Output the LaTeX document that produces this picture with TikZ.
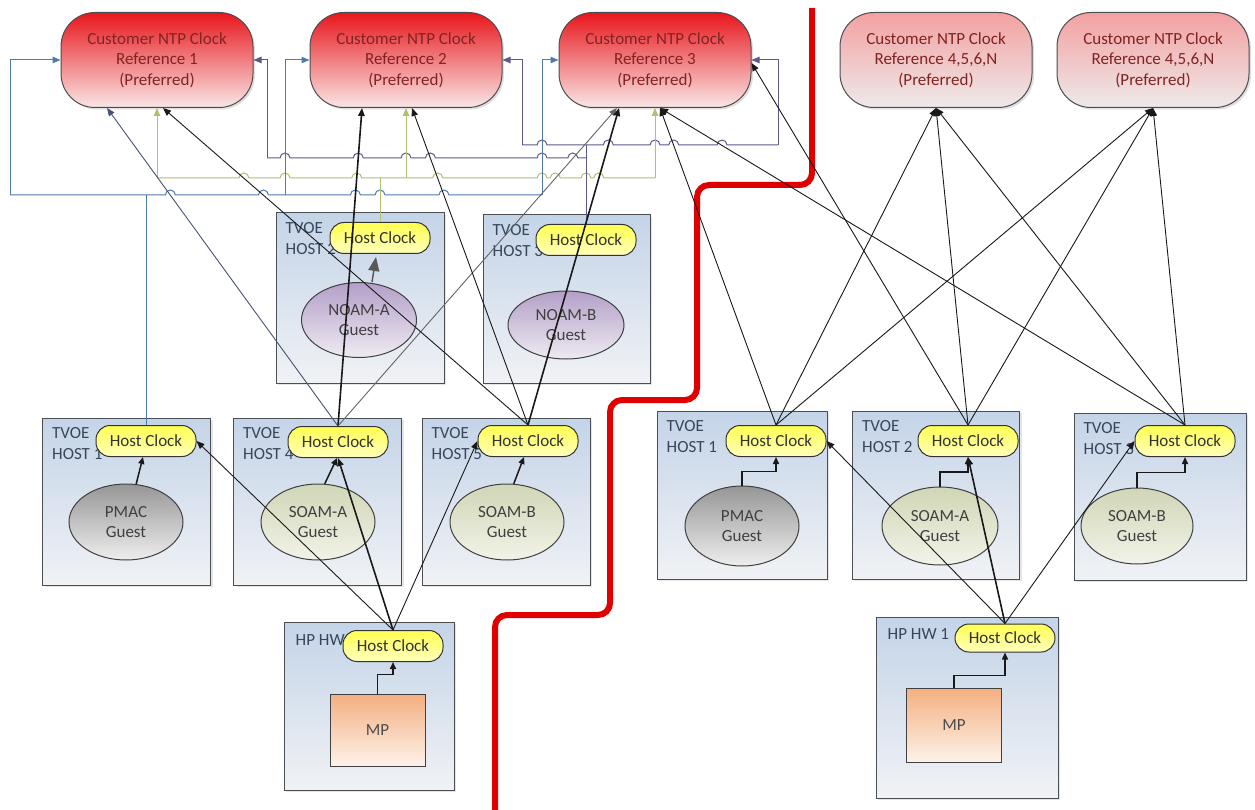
\documentclass[tikz,border=0pt]{standalone}
\usepackage{fontspec}
\setmainfont{Carlito}
\usetikzlibrary{arrows.meta,shapes.geometric,shadows,calc}
\definecolor{refAtop}{RGB}{232,22,28}
\definecolor{refAmid}{RGB}{240,110,112}
\definecolor{refAbot}{RGB}{250,230,230}
\definecolor{refBtop}{RGB}{243,160,160}
\definecolor{refBmid}{RGB}{242,200,200}
\definecolor{refBbot}{RGB}{238,234,234}
\definecolor{reftext}{RGB}{130,35,35}
\definecolor{boxtop}{RGB}{196,212,232}
\definecolor{boxbot}{RGB}{240,242,245}
\definecolor{boxline}{RGB}{75,78,82}
\definecolor{labtext}{RGB}{55,70,90}
\definecolor{clktop}{RGB}{255,255,80}
\definecolor{clkbot}{RGB}{255,255,190}
\definecolor{pmactop}{RGB}{150,150,150}
\definecolor{pmacbot}{RGB}{238,238,238}
\definecolor{soamtop}{RGB}{208,214,182}
\definecolor{soambot}{RGB}{242,243,232}
\definecolor{noamtop}{RGB}{180,160,200}
\definecolor{noambot}{RGB}{238,234,242}
\definecolor{mptop}{RGB}{244,175,128}
\definecolor{mpbot}{RGB}{253,242,234}
\definecolor{blueL}{RGB}{78,122,176}
\definecolor{purpL}{RGB}{92,90,140}
\definecolor{oliveL}{RGB}{178,190,112}
\definecolor{blackL}{RGB}{25,25,25}
\definecolor{slateL}{RGB}{72,84,110}
\definecolor{grayL}{RGB}{100,100,100}
\definecolor{wallred}{RGB}{224,0,0}
% horizontal bus with line jumps: style, y, x start, x end, jump positions
\newcommand\hopbus[5]{%
  \draw[#1] (#3,#2) \foreach \hx in {#5} { -- (\hx-5,#2) arc[start angle=180,end angle=0,radius=5pt] } -- (#4,#2);}
\begin{document}
\begin{tikzpicture}[x=1pt,y=-1pt,
  every node/.style={font=\fontsize{17}{20.5}\selectfont},
  tip/.style={-{Triangle[length=8pt,width=6.5pt]}},
  refA/.style={draw=boxline, line width=1pt, rounded corners=34pt, minimum width=192pt, minimum height=95pt,
    top color=refAtop, middle color=refAmid, bottom color=refAbot, text=reftext, align=center, inner sep=0pt,
    drop shadow={shadow xshift=2pt, shadow yshift=-2pt, opacity=0.25}},
  refB/.style={refA, top color=refBtop, middle color=refBmid, bottom color=refBbot},
  hostbox/.style={draw=boxline, line width=1pt, top color=boxtop, bottom color=boxbot, inner sep=0pt,
    drop shadow={shadow xshift=2pt, shadow yshift=-2pt, opacity=0.2}},
  hlabel/.style={anchor=north west, align=left, inner sep=0pt, text=labtext},
  hclock/.style={draw=black!80, line width=1pt, rounded corners=14pt, minimum width=100pt, minimum height=31pt,
    top color=clktop, bottom color=clkbot, inner sep=0pt, text=black!80},
  guest/.style={ellipse, draw=black!75, line width=1pt, inner sep=0pt, align=center, text=black!75},
  pmac/.style={guest, top color=pmactop, bottom color=pmacbot},
  soam/.style={guest, top color=soamtop, bottom color=soambot},
  noam/.style={guest, top color=noamtop, bottom color=noambot},
  mpbox/.style={draw=black!75, line width=1pt, top color=mptop, bottom color=mpbot, minimum width=95pt, minimum height=72pt, text=black!70},
  blueL1/.style={draw=blueL, line width=1pt},
  purpL1/.style={draw=purpL, line width=1pt},
  oliveL1/.style={draw=oliveL, line width=1pt},
  blueC/.style={tip, blueL1},
  purpC/.style={tip, purpL1},
  oliveC/.style={tip, oliveL1},
  blkC/.style={tip, draw=blackL, line width=0.9pt},
  thkC/.style={tip, draw=blackL, line width=1.6pt},
  slateC/.style={tip, draw=slateL, line width=0.9pt},
  grayC/.style={tip, draw=grayL, line width=0.9pt},
  gArrow/.style={-{Triangle[length=7pt,width=6pt]}, draw=blackL, line width=1.5pt},
  nArrow/.style={-{Triangle[length=14pt,width=11pt]}, draw=black!65, line width=1.5pt},
  wall/.style={draw=wallred, line width=6pt, rounded corners=12pt}
]
\useasboundingbox (0,0) rectangle (1255,810);
\fill[white] (0,0) rectangle (1255,810);

% red separating wall
\coordinate (w0) at (812,8);
\coordinate (w1) at (812,185);
\coordinate (w2) at (697,185);
\coordinate (w3) at (697,400);
\coordinate (w4) at (610,400);
\coordinate (w5) at (610,615);
\coordinate (w6) at (495,615);
\coordinate (w7) at (495,812);
\draw[wall] (w0) -- (w1) -- (w2) -- (w3) -- (w4) -- (w5) -- (w6) -- (w7);

% references
\node[refA] (ref1) at (157,60) {Customer NTP Clock\\Reference 1\\(Preferred)};
\node[refA] (ref2) at (406,60) {Customer NTP Clock\\Reference 2\\(Preferred)};
\node[refA] (ref3) at (655,60) {Customer NTP Clock\\Reference 3\\(Preferred)};
\node[refB] (ref4) at (936,60) {Customer NTP Clock\\Reference 4,5,6,N\\(Preferred)};
\node[refB] (ref5) at (1153,60) {Customer NTP Clock\\Reference 4,5,6,N\\(Preferred)};

% host boxes
\node[hostbox, minimum width=168pt, minimum height=167pt] (lh1) at (126.5,501.5) {};
\node[hostbox, minimum width=168pt, minimum height=167pt] (lh4) at (317.5,501.5) {};
\node[hostbox, minimum width=168pt, minimum height=167pt] (lh5) at (506,501.5) {};
\node[hostbox, minimum width=168pt, minimum height=170pt] (lh2) at (360,298) {};
\node[hostbox, minimum width=167pt, minimum height=168pt] (lh3) at (566.5,299) {};
\node[hostbox, minimum width=170pt, minimum height=168pt] (lhw) at (369,706) {};
\node[hostbox, minimum width=170pt, minimum height=168pt] (rh1) at (742,495) {};
\node[hostbox, minimum width=167pt, minimum height=168pt] (rh2) at (936,495) {};
\node[hostbox, minimum width=172pt, minimum height=167pt] (rh3) at (1160,496.5) {};
\node[hostbox, minimum width=182pt, minimum height=181pt] (rhw) at (967,707.5) {};

% host labels
\node[hlabel] (t1) at ([shift={(10,10)}]lh1.north west) {TVOE\\HOST 1};
\node[hlabel] (t4) at ([shift={(10,10)}]lh4.north west) {TVOE\\HOST 4};
\node[hlabel] (t5) at ([shift={(10,10)}]lh5.north west) {TVOE\\HOST 5};
\node[hlabel] (t2) at ([shift={(10,10)}]lh2.north west) {TVOE\\HOST 2};
\node[hlabel] (t3) at ([shift={(10,10)}]lh3.north west) {TVOE\\HOST 3};
\node[hlabel] (thw) at ([shift={(12,13)}]lhw.north west) {HP HW};
\node[hlabel] (rt1) at ([shift={(10,10)}]rh1.north west) {TVOE\\HOST 1};
\node[hlabel] (rt2) at ([shift={(10,10)}]rh2.north west) {TVOE\\HOST 2};
\node[hlabel] (rt3) at ([shift={(10,10)}]rh3.north west) {TVOE\\HOST 3};
\node[hlabel] (rthw) at ([shift={(12,12)}]rhw.north west) {HP HW 1};

% guests
\node[pmac, minimum width=114pt, minimum height=76pt] (g1) at (126,522) {PMAC\\Guest};
\node[soam, minimum width=114pt, minimum height=76pt] (g4) at (318,522) {SOAM-A\\Guest};
\node[soam, minimum width=114pt, minimum height=76pt] (g5) at (507,522) {SOAM-B\\Guest};
\node[noam, minimum width=115pt, minimum height=75pt] (g2) at (359,320) {NOAM-A\\Guest};
\node[noam, minimum width=116pt, minimum height=68pt] (g3) at (566,325) {NOAM-B\\Guest};
\node[pmac, minimum width=114pt, minimum height=80pt] (rg1) at (742,526) {PMAC\\Guest};
\node[soam, minimum width=116pt, minimum height=78pt] (rg2) at (940,526) {SOAM-A\\Guest};
\node[soam, minimum width=112pt, minimum height=76pt] (rg3) at (1137,526) {SOAM-B\\Guest};
\node[mpbox] (mp1) at (377.5,730) {MP};
\node[mpbox, minimum height=74pt] (mp2) at (954,725) {MP};

% host clocks
\node[hclock] (ck1) at (146,441) {Host Clock};
\node[hclock] (ck4) at (338,442) {Host Clock};
\node[hclock] (ck5) at (528,441) {Host Clock};
\node[hclock] (ck2) at (380,238) {Host Clock};
\node[hclock] (ck3) at (586,240) {Host Clock};
\node[hclock] (ckhw) at (393,646) {Host Clock};
\node[hclock] (rck1) at (776,441) {Host Clock};
\node[hclock] (rck2) at (968,441) {Host Clock};
\node[hclock] (rck3) at (1185,441) {Host Clock};
\node[hclock, minimum height=28pt] (rckhw) at (1005,638) {Host Clock};

% guest to host clock
\draw[gArrow] (g1.75) -- ([xshift=-3pt]ck1.south);
\draw[gArrow] (g4.80) -- ([xshift=-1pt]ck4.south);
\draw[gArrow] (g5.80) -- ([xshift=-4pt]ck5.south);
\draw[nArrow] ([xshift=13pt]g2.north) -- ([shift={(-4,3)}]ck2.south);
\draw[gArrow] (rg1.north) |- ($(rg1.north)!0.5!(rck1.south)$) -| (rck1.south);
\draw[gArrow] (rg2.north) |- ($(rg2.north)!0.5!(rck2.south)$) -| (rck2.south);
\draw[gArrow] (rg3.north) |- ($(rg3.north)!0.5!(rck3.south)$) -| (rck3.south);
\draw[gArrow] (mp1.north) |- ($(mp1.north)!0.6!(ckhw.south)$) -| (ckhw.south);
\draw[gArrow] (mp2.north) |- ($(mp2.north)!0.35!(rckhw.south)$) -| (rckhw.south);

% bus levels and branch columns
\coordinate (byy) at (0,195);
\coordinate (oyy) at (0,178);
\coordinate (pyy1) at (0,158);
\coordinate (pyy2) at (0,145);
\coordinate (bx1) at (10,0);
\coordinate (bx2) at (285,0);
\coordinate (bx3) at (542,0);
\coordinate (px1) at (267,0);
\coordinate (px2) at (522,0);
\coordinate (px3) at (778,0);

% buses with line jumps
\hopbus{blueL1}{195}{10}{542}{170.4,263.4,355.4,380,443.9}
\hopbus{oliveL1}{178}{157}{655}{243.9,285,356.7,437.7,542,555.3,586,598.8}
\hopbus{purpL1}{158}{267}{586}{285,358.2,406,430.4,542,572.8}
\hopbus{purpL1}{145}{522}{778}{542,608.3,655,673.7,722}

% blue tree: host 1 clock to left sides
\draw[blueL1] (ck1.north) -- (ck1.north |- byy);
\draw[blueC] (bx1 |- byy) -- (bx1 |- ref1.west) -- (ref1.west);
\draw[blueC] (bx2 |- byy) -- (bx2 |- ref2.west) -- (ref2.west);
\draw[blueC] (bx3 |- byy) -- (bx3 |- ref3.west) -- (ref3.west);

% olive tree: host 2 clock to bottoms
\draw[oliveL1] (ck2.north) -- (ck2.north |- oyy);
\draw[oliveC] (ref1.south |- oyy) -- (ref1.south);
\draw[oliveC] (ref2.south |- oyy) -- (ref2.south);
\draw[oliveC] (ref3.south |- oyy) -- (ref3.south);

% purple tree: host 3 clock to right sides
\draw[purpL1] (ck3.north) -- (ck3.north |- pyy2);
\draw[purpC] (px1 |- pyy1) -- (px1 |- ref1.east) -- (ref1.east);
\draw[purpC] (px2 |- pyy2) -- (px2 |- ref2.east) -- (ref2.east);
\draw[purpC] (px3 |- pyy2) -- (px3 |- ref3.east) -- (ref3.east);

% left group direct links
\draw[slateC] (ck4.north) -- ([xshift=-50pt]ref1.south);
\draw[thkC] (ck4.north) -- ([xshift=-44pt]ref2.south);
\draw[grayC] (ck4.north) -- ([xshift=-38pt]ref3.south);
\draw[blkC] (ck5.north) -- ([xshift=6pt]ref1.south);
\draw[blkC] (ck5.north) -- ([xshift=6pt]ref2.south);
\draw[thkC] (ck5.north) -- ([xshift=-36pt]ref3.south);
\draw[blkC] (ckhw.north) -- (ck1.east);
\draw[thkC] (ckhw.north) -- (ck4.south);
\draw[blkC] (ckhw.north) -- (ck5.west);

% right group links
\draw[blkC] (rck1.north) -- ([xshift=5pt]ref3.south);
\draw[blkC] (rck1.north) -- (ref4.south);
\draw[blkC] (rck1.north) -- (ref5.south);
\draw[blkC] (rck2.north) -- ([yshift=-3pt]ref3.east);
\draw[blkC] (rck2.north) -- (ref4.south);
\draw[blkC] (rck2.north) -- (ref5.south);
\draw[blkC] (rck3.north) -- ([xshift=5pt]ref3.south);
\draw[blkC] (rck3.north) -- (ref4.south);
\draw[blkC] (rck3.north) -- (ref5.south);
\draw[blkC] (rckhw.north) -- (rck1.east);
\draw[thkC] (rckhw.north) -- (rck2.south);
\draw[blkC] (rckhw.north) -- (rck3.west);
\end{tikzpicture}
\end{document}
